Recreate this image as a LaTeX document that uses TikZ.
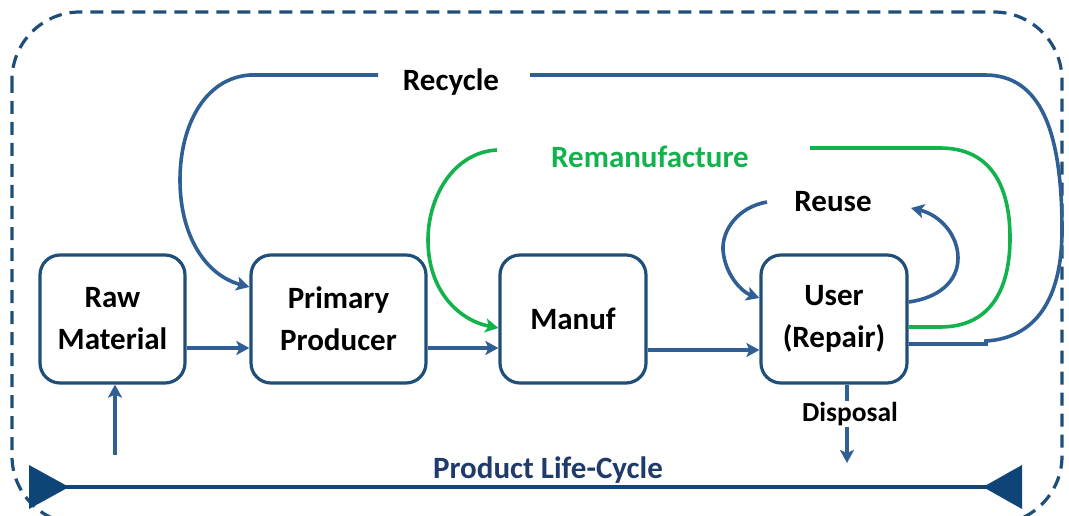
\documentclass[tikz,border=0pt]{standalone}
\usepackage{fontspec}
\setmainfont{Carlito}
\usetikzlibrary{arrows.meta}
\definecolor{boxblue}{HTML}{1F4E79}
\definecolor{arrblue}{HTML}{2F5F95}
\definecolor{plcblue}{HTML}{0E4576}
\definecolor{remgreen}{HTML}{12B24C}
\definecolor{plctext}{HTML}{1F3B6B}
\newcommand\lblfont{\fontsize{31}{42}\selectfont\bfseries}
\newcommand\smlfont{\fontsize{27.5}{34}\selectfont\bfseries}
\begin{document}
\begin{tikzpicture}[x=1pt,y=-1pt,
  box/.style={draw=boxblue, line width=3.2pt, rounded corners=20pt, minimum height=128pt, align=center, font=\lblfont, inner sep=0pt},
  lbl/.style={font=\lblfont, inner sep=0pt},
  conn/.style={draw=arrblue, line width=3.6pt},
  arr/.style={conn, -{Stealth[length=13pt,width=14pt,inset=3pt]}},
  gconn/.style={draw=remgreen, line width=3.6pt},
  garr/.style={gconn, -{Stealth[length=13pt,width=14pt,inset=3pt]}}]
\useasboundingbox (0,0) rectangle (1069,516);
% dashed frame
\draw[boxblue, line width=3.2pt, dash pattern=on 13pt off 8pt, rounded corners=68pt] (12,12) rectangle (1062,524);
% boxes
\node[box, minimum width=145pt] (raw) at (112.5,319) {Raw\\Material};
\node[box, minimum width=175pt] (prim) at (338.5,319) {Primary\\Producer};
\node[box, minimum width=146pt] (manuf) at (573,319) {Manuf};
\node[box, minimum width=146pt] (user) at (834,319) {User\\(Repair)};
% labels
\node[lbl] (recycle) at (451,82) {Recycle};
\node[lbl, text=remgreen] (reman) at (650,157) {Remanufacture};
\node[lbl] (reuse) at (833,202) {Reuse};
% coordinates
\coordinate (recL) at (378,75);
\coordinate (recR) at (530,75);
\coordinate (remL) at (497,150);
\coordinate (remR) at (810,148);
\coordinate (reuseL) at (767,202);
\coordinate (reuseR) at (911,208);
\coordinate (rawIn) at (115,455);
\coordinate (dispEnd) at (847,463);
\coordinate (plcL) at (29,487);
\coordinate (plcR) at (1022,487);
% main flow
\draw[arr] (raw.east |- 0,348) -- (prim.west |- 0,348);
\draw[arr] (prim.east |- 0,348) -- (manuf.west |- 0,348);
\draw[arr] (manuf.east |- 0,350) -- (user.west |- 0,350);
\draw[arr] (rawIn) -- (raw.south -| rawIn);
% recycle
\draw[arr] (recL) -- (250,75) .. controls (205,78) and (180,125) .. (180,180) .. controls (180,235) and (205,275) .. (prim.west |- 0,287);
\draw[conn] (user.east |- 0,344) -- (986,344) -- (986,341) .. controls (1035,338) and (1062,300) .. (1062,230) .. controls (1062,130) and (1040,75) .. (985,75) -- (recR);
% remanufacture
\draw[garr] (remL) .. controls (455,152) and (428,195) .. (428,240) .. controls (428,290) and (458,320) .. (manuf.west |- 0,328);
\draw[gconn] (user.east |- 0,327) -- (940,327) .. controls (990,327) and (1010,290) .. (1010,238) .. controls (1010,185) and (990,148) .. (940,148) -- (remR);
% reuse
\draw[arr] (reuseL) .. controls (738,207) and (722,230) .. (723,250) .. controls (725,275) and (742,292) .. (user.west |- 0,298);
\draw[arr] (user.east |- 0,302) .. controls (938,298) and (958,282) .. (958,258) .. controls (958,235) and (940,215) .. (reuseR);
% disposal
\draw[arr] (user.south -| dispEnd) -- (dispEnd);
\node[font=\smlfont, fill=white, inner sep=1pt] (disp) at (850,414) {Disposal};
% product life-cycle
\draw[plcblue, line width=3.2pt] (plcL) -- (plcR);
\fill[plcblue] (29,465) -- (69,487) -- (29,509) -- cycle;
\fill[plcblue] (1022,465) -- (983,487) -- (1022,509) -- cycle;
\node[lbl, text=plctext] (plc) at (548,470) {Product Life-Cycle};
\end{tikzpicture}
\end{document}
